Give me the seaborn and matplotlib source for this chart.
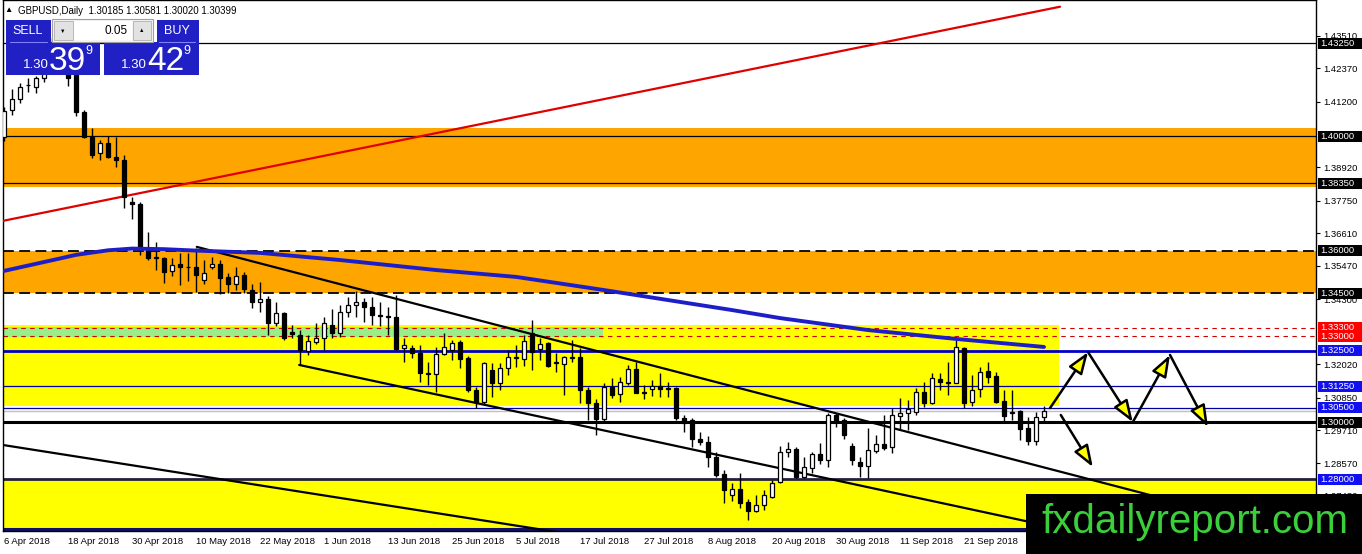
import numpy as np
import matplotlib
matplotlib.use("Agg")
import matplotlib.pyplot as plt
import seaborn as sns
from matplotlib.patches import Rectangle

# GBPUSD daily candles, 6 Apr 2018 .. 5 Oct 2018
opens = [1.3998, 1.4092, 1.4131, 1.4180, 1.4173, 1.4204, 1.4270, 1.4330, 1.4290, 1.4215,
         1.4085, 1.3998, 1.3942, 1.3977, 1.3928, 1.3917, 1.3770, 1.3763, 1.3602, 1.3577,
         1.3574, 1.3528, 1.3553, 1.3544, 1.3542, 1.3497, 1.3544, 1.3553, 1.3507, 1.3483,
         1.3514, 1.3462, 1.3420, 1.3431, 1.3347, 1.3382, 1.3315, 1.3305, 1.3249, 1.3280,
         1.3294, 1.3340, 1.3312, 1.3385, 1.3410, 1.3420, 1.3403, 1.3375, 1.3371, 1.3368,
         1.3259, 1.3259, 1.3242, 1.3172, 1.3168, 1.3238, 1.3252, 1.3280, 1.3224, 1.3112,
         1.3070, 1.3182, 1.3137, 1.3189, 1.3228, 1.3221, 1.3312, 1.3256, 1.3277, 1.3210,
         1.3203, 1.3228, 1.3228, 1.3112, 1.3067, 1.3011, 1.3122, 1.3098, 1.3137, 1.3186,
         1.3105, 1.3116, 1.3126, 1.3119, 1.3119, 1.3014, 1.3007, 1.2941, 1.2930, 1.2877,
         1.2818, 1.2745, 1.2765, 1.2720, 1.2689, 1.2710, 1.2738, 1.2790, 1.2895, 1.2905,
         1.2808, 1.2839, 1.2888, 1.2867, 1.3025, 1.3007, 1.2916, 1.2860, 1.2846, 1.2899,
         1.2923, 1.2912, 1.3021, 1.3032, 1.3035, 1.3105, 1.3067, 1.3151, 1.3140, 1.3137,
         1.3259, 1.3070, 1.3116, 1.3179, 1.3161, 1.3074, 1.3035, 1.3039, 1.2979, 1.2934,
         1.30185]
highs = [1.4103, 1.4166, 1.4187, 1.4204, 1.4211, 1.4290, 1.4345, 1.4377, 1.4300, 1.4225,
         1.4092, 1.4029, 1.3987, 1.4001, 1.3998, 1.3935, 1.3788, 1.3770, 1.3665, 1.3630,
         1.3578, 1.3574, 1.3592, 1.3592, 1.3609, 1.3567, 1.3578, 1.3567, 1.3521, 1.3542,
         1.3525, 1.3483, 1.3490, 1.3441, 1.3420, 1.3385, 1.3340, 1.3322, 1.3305, 1.3347,
         1.3368, 1.3396, 1.3410, 1.3438, 1.3460, 1.3434, 1.3438, 1.3420, 1.3403, 1.3445,
         1.3294, 1.3270, 1.3270, 1.3210, 1.3263, 1.3312, 1.3287, 1.3287, 1.3231, 1.3122,
         1.3210, 1.3207, 1.3207, 1.3252, 1.3270, 1.3305, 1.3357, 1.3294, 1.3280, 1.3242,
         1.3231, 1.3287, 1.3259, 1.3122, 1.3081, 1.3137, 1.3154, 1.3158, 1.3200, 1.3210,
         1.3130, 1.3147, 1.3172, 1.3140, 1.3123, 1.3025, 1.3014, 1.2965, 1.2951, 1.2895,
         1.2832, 1.2787, 1.2822, 1.2731, 1.2745, 1.2762, 1.2797, 1.2916, 1.2930, 1.2912,
         1.2877, 1.2895, 1.2926, 1.3032, 1.3032, 1.3014, 1.2926, 1.2877, 1.2979, 1.2954,
         1.3025, 1.3049, 1.3084, 1.3077, 1.3119, 1.3140, 1.3172, 1.3172, 1.3210, 1.3287,
         1.3263, 1.3165, 1.3193, 1.3210, 1.3175, 1.3112, 1.3112, 1.3042, 1.3018, 1.3035,
         1.30581]
lows = [1.3984, 1.4075, 1.4117, 1.4155, 1.4152, 1.4190, 1.4255, 1.4265, 1.4176, 1.4071,
        1.3994, 1.3924, 1.3917, 1.3924, 1.3893, 1.3749, 1.3710, 1.3585, 1.3567, 1.3532,
        1.3487, 1.3511, 1.3480, 1.3494, 1.3455, 1.3483, 1.3536, 1.3448, 1.3452, 1.3462,
        1.3452, 1.3399, 1.3385, 1.3305, 1.3336, 1.3287, 1.3294, 1.3200, 1.3235, 1.3273,
        1.3252, 1.3294, 1.3298, 1.3368, 1.3368, 1.3350, 1.3340, 1.3336, 1.3305, 1.3252,
        1.3210, 1.3224, 1.3140, 1.3130, 1.3105, 1.3235, 1.3217, 1.3189, 1.3105, 1.3049,
        1.3060, 1.3088, 1.3112, 1.3165, 1.3193, 1.3196, 1.3182, 1.3217, 1.3192, 1.3175,
        1.3095, 1.3210, 1.3067, 1.3007, 1.2955, 1.2997, 1.3084, 1.3070, 1.3130, 1.3102,
        1.3081, 1.3091, 1.3088, 1.3088, 1.3007, 1.2965, 1.2912, 1.2920, 1.2842, 1.2808,
        1.2717, 1.2724, 1.2699, 1.2657, 1.2685, 1.2692, 1.2734, 1.2787, 1.2877, 1.2804,
        1.2804, 1.2821, 1.2853, 1.2842, 1.2983, 1.2941, 1.2849, 1.2807, 1.2804, 1.2891,
        1.2902, 1.2891, 1.2972, 1.2972, 1.3025, 1.3053, 1.3063, 1.3112, 1.3095, 1.3137,
        1.3049, 1.3056, 1.3088, 1.3137, 1.3067, 1.3000, 1.3007, 1.2937, 1.2920, 1.2920,
        1.30020]
closes = [1.4089, 1.4131, 1.4173, 1.4178, 1.4204, 1.4270, 1.4330, 1.4290, 1.4204, 1.4085,
          1.3998, 1.3935, 1.3977, 1.3928, 1.3917, 1.3788, 1.3763, 1.3609, 1.3574, 1.3574,
          1.3525, 1.3550, 1.3542, 1.3542, 1.3514, 1.3522, 1.3553, 1.3504, 1.3483, 1.3511,
          1.3465, 1.3420, 1.3431, 1.3347, 1.3382, 1.3294, 1.3308, 1.3252, 1.3284, 1.3294,
          1.3347, 1.3312, 1.3385, 1.3410, 1.3420, 1.3403, 1.3375, 1.3371, 1.3368, 1.3256,
          1.3270, 1.3242, 1.3172, 1.3168, 1.3238, 1.3263, 1.3277, 1.3221, 1.3112, 1.3070,
          1.3207, 1.3137, 1.3189, 1.3228, 1.3224, 1.3284, 1.3245, 1.3273, 1.3196, 1.3207,
          1.3228, 1.3224, 1.3112, 1.3067, 1.3011, 1.3122, 1.3095, 1.3140, 1.3186, 1.3102,
          1.3102, 1.3126, 1.3116, 1.3116, 1.3014, 1.2997, 1.2941, 1.2930, 1.2877, 1.2815,
          1.2762, 1.2765, 1.2717, 1.2689, 1.2710, 1.2745, 1.2787, 1.2895, 1.2905, 1.2808,
          1.2842, 1.2888, 1.2867, 1.3025, 1.3004, 1.2955, 1.2867, 1.2846, 1.2902, 1.2923,
          1.2909, 1.3025, 1.3032, 1.3046, 1.3105, 1.3067, 1.3154, 1.3140, 1.3137, 1.3263,
          1.3067, 1.3112, 1.3175, 1.3158, 1.3070, 1.3021, 1.3032, 1.2976, 1.2934, 1.3018,
          1.30399]

date_labels = ["6 Apr 2018", "18 Apr 2018", "30 Apr 2018", "10 May 2018", "22 May 2018",
               "1 Jun 2018", "13 Jun 2018", "25 Jun 2018", "5 Jul 2018", "17 Jul 2018",
               "27 Jul 2018", "8 Aug 2018", "20 Aug 2018", "30 Aug 2018", "11 Sep 2018",
               "21 Sep 2018"]
price_ticks = [1.43510, 1.42370, 1.41200, 1.38920, 1.37750, 1.36610, 1.35470, 1.34300,
               1.32020, 1.30850, 1.29710, 1.28570, 1.27430]

# moving average (bar index, value)
ma_idx = [0, 5, 9, 13, 16, 20, 24, 32, 42, 54, 64, 75, 91, 97, 108, 119, 130]
ma_val = [1.3529, 1.3560, 1.3585, 1.3601, 1.3607, 1.3605, 1.3600, 1.3592, 1.3567,
          1.3532, 1.3508, 1.3462, 1.3392, 1.3364, 1.3322, 1.3291, 1.3263]

# zones: low, high, last bar (None = to the right edge)
zone_lo = [1.3823, 1.3450, 1.3055, 1.3299, 1.2625]
zone_hi = [1.4028, 1.3600, 1.3341, 1.3334, 1.2800]
zone_end = [None, None, 131.9, 74.9, None]
zone_colors = ["#ffa500", "#ffa500", "#ffff00", "#99ee88", "#ffff00"]

# horizontal levels
level_prices = [1.4325, 1.4000, 1.3835, 1.3600, 1.3450, 1.3330, 1.3300, 1.3250,
                1.3125, 1.3050, 1.3000, 1.2800, 1.2625]
level_colors = ["black", "black", "black", "black", "black", "#d00000", "#d00000",
                "#0000c8", "#0000a0", "#0000a0", "black", "#202040", "#10106a"]
level_widths = [0.9, 0.9, 0.9, 1.3, 1.3, 0.8, 0.8, 2.0, 0.9, 0.9, 2.2, 2.0, 2.2]
level_styles = ["-", "-", "-", (0, (6, 3)), (0, (6, 3)), (0, (4, 4)), (0, (4, 4)),
                "-", "-", "-", "-", "-", "-"]

# labelled levels on the price scale
box_prices = [1.4325, 1.4000, 1.3835, 1.3600, 1.3450, 1.3330, 1.3300, 1.3250,
              1.3125, 1.3050, 1.3000, 1.2800]
box_colors = ["black"] * 5 + ["#ff0000", "#ff0000"] + ["#1010f0"] * 3 + ["black", "#1010f0"]

# trend lines: (bar index pair, price pair, colour)
trend_x = [[-0.125, 132.0], [24.1, 143.25], [36.9, 137.0], [-0.125, 69.5]]
trend_y = [[1.3704, 1.4453], [1.3613, 1.2745], [1.3200, 1.2598], [1.2920, 1.2614]]
trend_colors = ["#e00000", "black", "black", "black"]

# scenario arrows
zig_idx = [130.75, 135.5, 141.1, 145.75, 150.5]
zig_price = [1.3049, 1.3245, 1.3000, 1.3235, 1.2983]
down_idx = [132.1, 136.1]
down_price = [1.3025, 1.2843]

sns.set_style("white")
plt.rcParams["font.family"] = ["Liberation Sans", "DejaVu Sans"]

fig = plt.figure(figsize=(13.62, 5.54), dpi=100)
ax = fig.add_axes([3 / 1362, 23 / 554, 1313 / 1362, 531 / 554])
ax.set_xlim(-0.125, 164.0)
ax.set_ylim(1.26192, 1.44765)

for lo, hi, end, col in zip(zone_lo, zone_hi, zone_end, zone_colors):
    x_end = 200 if end is None else end
    ax.fill_between([-5, x_end], lo, hi, color=col, lw=0, zorder=1)

for p, col, w, st in zip(level_prices, level_colors, level_widths, level_styles):
    ax.axhline(p, color=col, lw=w, ls=st, zorder=2)
ax.axhline(closes[-1], color="#c0c0c0", lw=1, zorder=2)

for tx, ty, col in zip(trend_x, trend_y, trend_colors):
    sns.lineplot(x=tx, y=ty, ax=ax, color=col, linewidth=1.6, zorder=3)

# candles
x = np.arange(len(opens))
o = np.array(opens)
c = np.array(closes)
up = c >= o
ax.vlines(x, lows, highs, color="black", lw=1, zorder=4)
body_lo = np.minimum(o, c)
body_h = np.maximum(np.abs(c - o), 0.00008)
ax.bar(x, body_h, bottom=body_lo, width=0.62,
       color=["white" if u else "black" for u in up],
       edgecolor="black", linewidth=0.9, zorder=5)

sns.lineplot(x=ma_idx, y=ma_val, ax=ax, color="#1e1ec8", linewidth=2.8, zorder=6)

for i in range(len(zig_idx) - 1):
    ax.annotate("", xy=(zig_idx[i + 1], zig_price[i + 1]), xytext=(zig_idx[i], zig_price[i]),
                arrowprops=dict(arrowstyle="-|>,head_length=1.1,head_width=0.4",
                                mutation_scale=12, lw=1.8, ec="black", fc="#ffff00",
                                shrinkA=0, shrinkB=0), zorder=8)
ax.annotate("", xy=(down_idx[1], down_price[1]), xytext=(down_idx[0], down_price[0]),
            arrowprops=dict(arrowstyle="-|>,head_length=1.1,head_width=0.4",
                            mutation_scale=12, lw=1.8, ec="black", fc="#ffff00",
                            shrinkA=0, shrinkB=0), zorder=8)

# axes and ticks
for s in ax.spines.values():
    s.set_color("black")
    s.set_linewidth(1)
ax.set_xlabel("")
ax.set_ylabel("")
ax.set_xticks(np.arange(0, 8 * len(date_labels), 8))
ax.set_xticklabels(date_labels, ha="left")
ax.yaxis.tick_right()
ax.set_yticks(price_ticks)
ax.set_yticklabels([f"{p:.5f}" for p in price_ticks])
ax.tick_params(axis="both", direction="out", length=3, width=0.8, labelsize=6.8,
               colors="black")
ax.tick_params(axis="x", pad=1.5)
ax.tick_params(axis="y", pad=2)

ytrans = ax.get_yaxis_transform()
for p, col in zip(box_prices, box_colors):
    ax.add_patch(Rectangle((1.0015, p - 0.0019), 0.0345, 0.0038, transform=ytrans,
                           fc=col, ec="none", clip_on=False, zorder=20))
    ax.text(1.0035, p, f"{p:.5f}", transform=ytrans, ha="left", va="center",
            fontsize=6.8, color="white", clip_on=False, zorder=21)

# overlay: header, trade panel, watermark (pixel coordinates)
ov = fig.add_axes([0, 0, 1, 1], zorder=5)
ov.set_xlim(0, 1362)
ov.set_ylim(554, 0)
ov.axis("off")
ov.patch.set_alpha(0)

ov.text(4, 11, "▲", fontsize=6, va="center", ha="left", color="black")
ov.text(18, 11, "GBPUSD,Daily  1.30185 1.30581 1.30020 1.30399", fontsize=7,
        va="center", ha="left", color="black")

blue = "#2020c4"
for rx, ry, rw, rh in [(6, 20, 45, 23), (6, 42, 94, 33), (157, 20, 42, 23), (104, 42, 95, 33)]:
    ov.add_patch(Rectangle((rx, ry), rw, rh, fc=blue, ec="none"))
ov.plot([10, 47], [42, 42], color="#8080ff", lw=0.8)
ov.plot([159, 195], [42, 42], color="#8080ff", lw=0.8)
ov.add_patch(Rectangle((52, 19), 101, 23, fc="#f4f4f4", ec="#a0a0a0", lw=0.8))
ov.add_patch(Rectangle((54, 21), 19, 19, fc="#e2e2e2", ec="#b0b0b0", lw=0.6))
ov.add_patch(Rectangle((74, 21), 58, 19, fc="white", ec="none"))
ov.add_patch(Rectangle((133, 21), 18, 19, fc="#e2e2e2", ec="#b0b0b0", lw=0.6))
ov.text(63, 31, "▼", fontsize=4, ha="center", va="center", color="black")
ov.text(142, 31, "▲", fontsize=4, ha="center", va="center", color="black")
ov.text(128, 30.5, "0.05", fontsize=8.5, ha="right", va="center", color="black")
ov.text(28, 31, "SELL", fontsize=9, ha="center", va="center", color="white")
ov.text(177, 31, "BUY", fontsize=9, ha="center", va="center", color="white")
for bx, big in [(6, "39"), (104, "42")]:
    ov.text(bx + 17, 65, "1.30", fontsize=9.5, ha="left", va="center", color="white")
    ov.text(bx + 43, 61, big, fontsize=24, ha="left", va="center", color="white")
    ov.text(bx + 79, 51, "9", fontsize=9, ha="left", va="center", color="white")

ov.add_patch(Rectangle((1026, 494), 336, 60, fc="black", ec="none"))
ov.text(1041, 533, "fxdailyreport.com", fontsize=29, ha="left", va="baseline",
        color="#3ccf3c", family="Liberation Sans")

fig.savefig("out.png", dpi=100)
